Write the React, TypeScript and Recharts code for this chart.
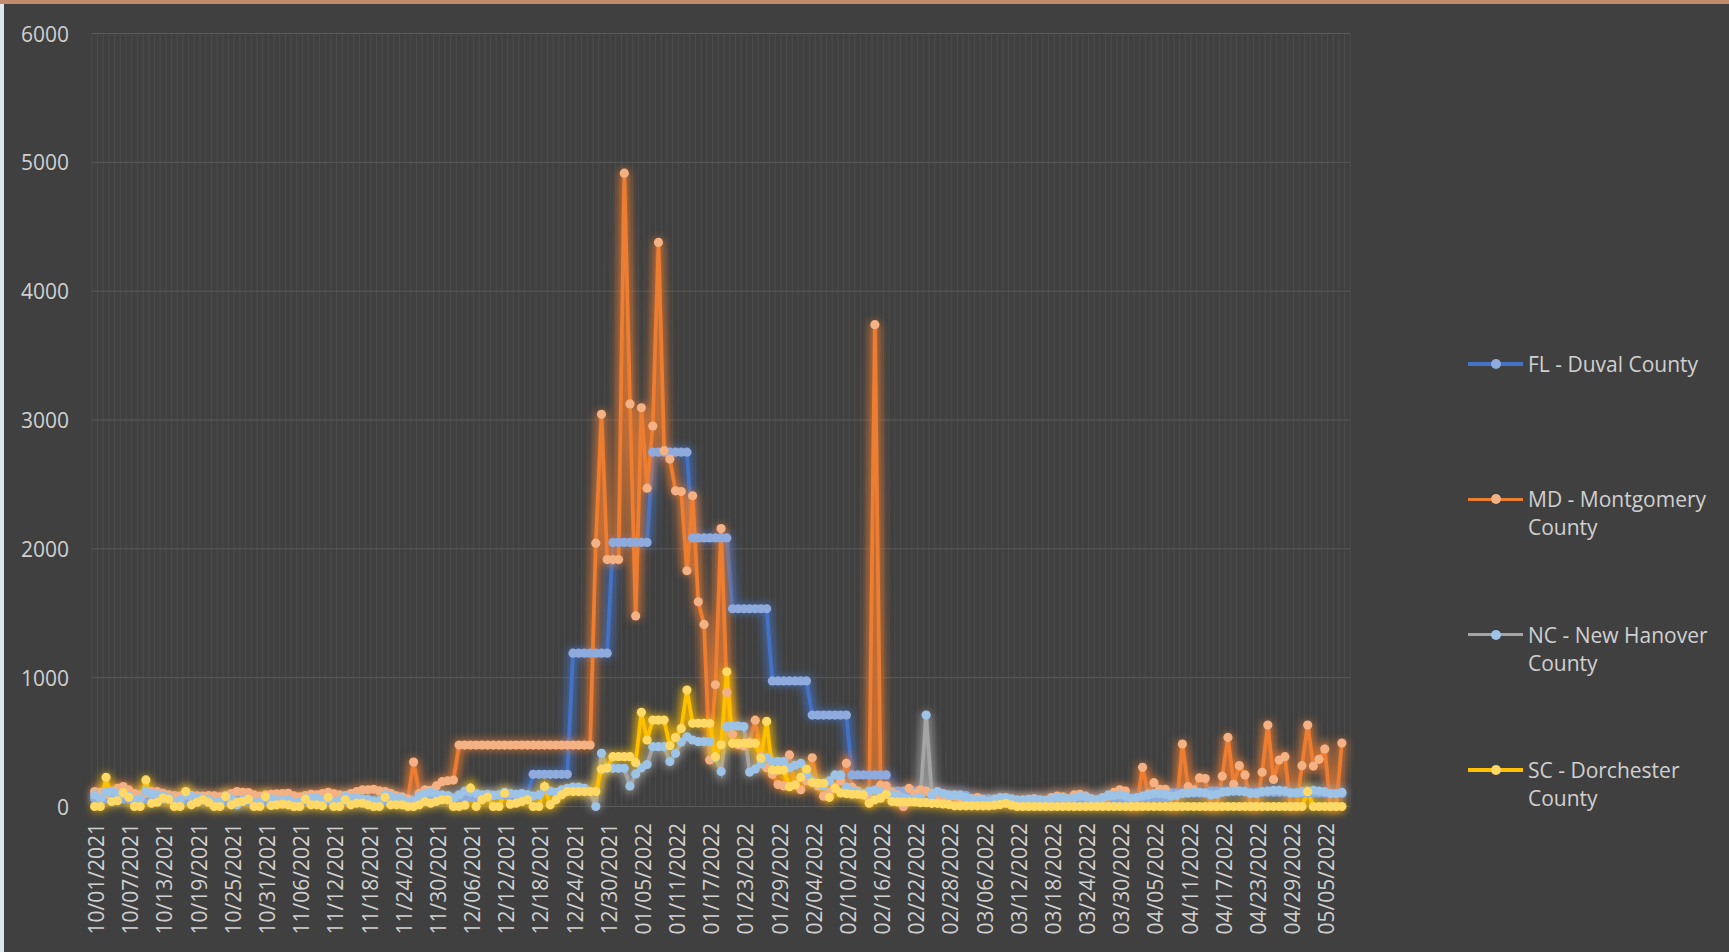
import { LineChart, Line, XAxis, YAxis, CartesianGrid } from 'recharts';

// daily categories 10/01/2021 .. 05/09/2022 (last one has no values)
const START = Date.UTC(2021, 9, 1);
const DAY_COUNT = 221;
const DATES = Array.from({ length: DAY_COUNT }, (_, i) => {
  const d = new Date(START + i * 86400000);
  const mm = String(d.getUTCMonth() + 1).padStart(2, '0');
  const dd = String(d.getUTCDate()).padStart(2, '0');
  return `${mm}/${dd}/${d.getUTCFullYear()}`;
});

const Y_TICKS = [0, 1000, 2000, 3000, 4000, 5000, 6000];

// one row per week, starting 10/01/2021
const FL_DUVAL = [
  60, 60, 60, 60, 60, 60, 60,
  55, 55, 55, 55, 55, 55, 55,
  50, 50, 50, 50, 50, 50, 50,
  45, 45, 45, 45, 45, 45, 45,
  40, 40, 40, 40, 40, 40, 40,
  40, 40, 40, 40, 40, 40, 40,
  40, 40, 40, 40, 40, 40, 40,
  45, 45, 45, 45, 45, 45, 45,
  55, 55, 55, 55, 55, 55, 55,
  70, 70, 70, 70, 70, 70, 70,
  90, 90, 90, 90, 90, 90, 90,
  250, 250, 250, 250, 250, 250, 250,
  1190, 1190, 1190, 1190, 1190, 1190, 1190,
  2050, 2050, 2050, 2050, 2050, 2050, 2050,
  2750, 2750, 2750, 2750, 2750, 2750, 2750,
  2085, 2085, 2085, 2085, 2085, 2085, 2085,
  1535, 1535, 1535, 1535, 1535, 1535, 1535,
  975, 975, 975, 975, 975, 975, 975,
  710, 710, 710, 710, 710, 710, 710,
  245, 245, 245, 245, 245, 245, 245,
  120, 120, 120, 120, 120, 120, 120,
  85, 85, 85, 85, 85, 85, 85,
  60, 60, 60, 60, 60, 60, 60,
  50, 50, 50, 50, 50, 50, 50,
  45, 45, 45, 45, 45, 45, 45,
  50, 50, 50, 50, 50, 50, 50,
  65, 65, 65, 65, 65, 65, 65,
  105, 105, 105, 105, 105, 105, 105,
  120, 120, 120, 120, 120, 120, 120,
  110, 110, 110, 110, 110, 110, 110,
  105, 105, 105, 105, 105, 105, 105,
  100, 100, 100,
];

const MD_MONTGOMERY = [
  116, 110, 95, 120, 140, 155, 129,
  100, 90, 105, 116, 116, 103, 90,
  85, 80, 90, 85, 82, 80, 85,
  82, 75, 85, 100, 116, 110, 108,
  90, 80, 90, 95, 98, 100, 103,
  82, 75, 85, 95, 90, 100, 110,
  98, 90, 85, 100, 115, 129, 130,
  134, 121, 116, 100, 82, 75, 60,
  345, 100, 130, 125, 160, 193, 200,
  205, 477, 477, 477, 477, 477, 477,
  477, 477, 477, 477, 477, 477, 477,
  477, 477, 477, 477, 477, 477, 477,
  477, 477, 477, 477, 2044, 3044, 1917,
  1917, 1917, 4916, 3125, 1479, 3095, 2471,
  2953, 4378, 2762, 2697, 2450, 2445, 1830,
  2412, 1589, 1413, 361, 945, 2157, 885,
  560, 480, 470, 500, 670, 390, 300,
  250, 170, 160, 400, 170, 130, 200,
  378, 160, 80, 110, 150, 200, 335,
  150, 120, 100, 60, 3740, 165, 160,
  110, 90, 0, 140, 100, 130, 120,
  100, 80, 70, 75, 80, 60, 55,
  60, 70, 50, 40, 55, 60, 50,
  45, 40, 50, 55, 60, 50, 45,
  70, 80, 75, 60, 90, 95, 80,
  60, 50, 60, 80, 110, 130, 120,
  0, 0, 304, 97, 185, 133, 133,
  0, 0, 485, 154, 128, 222, 217,
  0, 0, 235, 536, 172, 317, 245,
  0, 0, 266, 632, 210, 361, 387,
  0, 0, 317, 632, 314, 366, 446,
  0, 0, 493,
];

const NC_NEW_HANOVER = [
  90, 60, 110, 116, 100, 95, 80,
  50, 60, 120, 100, 90, 85, 70,
  40, 50, 95, 80, 70, 60, 55,
  30, 40, 80, 60, 13, 50, 55,
  30, 35, 70, 60, 50, 45, 50,
  30, 35, 60, 65, 65, 55, 60,
  40, 45, 80, 70, 65, 60, 55,
  40, 45, 90, 80, 70, 60, 30,
  40, 80, 103, 110, 95, 90, 85,
  60, 91, 120, 110, 100, 90, 95,
  85, 90, 110, 100, 95, 100, 90,
  80, 90, 130, 120, 110, 130, 140,
  150, 150, 140, 116, 0, 413, 296,
  296, 296, 296, 159, 253, 300, 326,
  464, 464, 464, 349, 413, 500, 541,
  516, 503, 503, 503, 380, 272, 620,
  625, 625, 620, 267, 292, 330, 380,
  349, 349, 348, 300, 320, 335, 250,
  200, 180, 160, 200, 245, 245, 149,
  120, 110, 100, 120, 127, 110, 100,
  90, 80, 70, 60, 60, 70, 710,
  90, 116, 100, 90, 90, 90, 70,
  60, 50, 50, 40, 50, 70, 70,
  60, 50, 50, 55, 60, 50, 45,
  60, 70, 65, 60, 70, 80, 75,
  60, 50, 70, 90, 85, 90, 80,
  60, 70, 80, 90, 100, 100, 95,
  80, 85, 100, 105, 110, 110, 105,
  90, 95, 110, 115, 120, 120, 115,
  100, 100, 115, 120, 125, 125, 120,
  105, 105, 115, 120, 125, 120, 115,
  100, 100, 110,
];

const SC_DORCHESTER = [
  0, 0, 227, 39, 44, 107, 71,
  0, 0, 206, 26, 33, 65, 57,
  0, 0, 116, 13, 33, 52, 33,
  0, 0, 77, 13, 33, 39, 57,
  0, 0, 77, 8, 13, 18, 13,
  0, 0, 57, 13, 13, 5, 71,
  0, 0, 52, 13, 26, 26, 13,
  0, 0, 71, 13, 13, 13, 0,
  0, 13, 39, 26, 39, 52, 52,
  0, 0, 10, 142, 0, 52, 73,
  0, 0, 103, 18, 26, 39, 52,
  0, 0, 155, 13, 52, 91, 116,
  116, 116, 116, 116, 116, 290, 300,
  387, 387, 387, 387, 340, 731, 516,
  671, 671, 671, 472, 535, 606, 904,
  646, 646, 646, 646, 387, 479, 1046,
  490, 490, 490, 490, 490, 375, 660,
  283, 283, 283, 154, 167, 227, 289,
  186, 180, 180, 71, 141, 105, 100,
  95, 95, 90, 26, 52, 65, 95,
  39, 35, 35, 35, 35, 30, 30,
  25, 25, 20, 15, 5, 5, 5,
  5, 5, 5, 5, 10, 15, 25,
  10, 0, 0, 0, 0, 0, 0,
  0, 0, 0, 0, 0, 0, 0,
  0, 0, 0, 0, 0, 0, 0,
  0, 0, 0, 0, 0, 0, 0,
  0, 0, 0, 0, 0, 0, 0,
  0, 0, 0, 0, 0, 0, 0,
  0, 0, 0, 0, 0, 0, 0,
  0, 0, 0, 115, 0, 0, 0,
  0, 0, 0,
];

const SERIES = [
  { key: 'fl', name: 'FL - Duval County', line: '#4472C4', marker: '#8FAADC' },
  { key: 'md', name: 'MD - Montgomery County', line: '#ED7D31', marker: '#F4B183' },
  { key: 'nc', name: 'NC - New Hanover County', line: '#A5A5A5', marker: '#9DC3E6' },
  { key: 'sc', name: 'SC - Dorchester County', line: '#FFC000', marker: '#FFD966' },
];

const rows = DATES.map((date, i) => ({
  date,
  fl: FL_DUVAL[i],
  md: MD_MONTGOMERY[i],
  nc: NC_NEW_HANOVER[i],
  sc: SC_DORCHESTER[i],
}));

const W = 1729;
const H = 952;
const FONT = "'Open Sans', 'Noto Sans', sans-serif";
const TEXT = '#D0D0D0';
const BG = '#404040';

const XTick = ({ x, payload }: any) => {
  const cx = x + 1.5;
  const y = 823;
  return (
    <text x={cx} y={y} transform={`rotate(-90 ${cx} ${y})`} textAnchor="end" dominantBaseline="central"
      fill={TEXT} fontSize={21} fontFamily={FONT}>
      {payload.value}
    </text>
  );
};

const YTick = ({ y, payload }: any) => (
  <text x={69} y={y} textAnchor="end" dominantBaseline="central" fill={TEXT} fontSize={21} fontFamily={FONT}>
    {payload.value}
  </text>
);

const LEGEND_TOP = 364;
const LEGEND_GAP = 135.3;

export default function App() {
  return (
    <div style={{ position: 'fixed', left: 0, top: 0, width: W, height: H, background: BG, overflow: 'hidden', fontFamily: FONT }}>
      <style>{SERIES.map((s) => `.glow-${s.key} { filter: url(#glow-${s.key}); }`).join('\n')}</style>
      <svg width={1} height={1} style={{ position: 'absolute', left: 0, top: 0 }}>
        <defs>
          {SERIES.map((s) => (
            <filter key={s.key} id={`glow-${s.key}`} filterUnits="userSpaceOnUse" x={0} y={0} width={W} height={H}
              colorInterpolationFilters="sRGB">
              <feMorphology in="SourceAlpha" operator="dilate" radius={2.5} result="d" />
              <feGaussianBlur in="d" stdDeviation={4.5} result="b" />
              <feFlood floodColor={s.line} floodOpacity={0.75} />
              <feComposite in2="b" operator="in" result="g" />
              <feMerge>
                <feMergeNode in="g" />
                <feMergeNode in="SourceGraphic" />
              </feMerge>
            </filter>
          ))}
        </defs>
      </svg>
      <div style={{ position: 'absolute', left: 0, top: 0, width: W, height: 4, background: '#C08A6C' }} />
      <div style={{ position: 'absolute', left: 0, top: 4, width: 4, height: H - 4, background: '#DCE6EE' }} />

      <div style={{ position: 'absolute', left: 0, top: 0 }}>
        <LineChart width={W} height={H} data={rows} margin={{ top: 33.5, right: 378.6, bottom: 15.5, left: 11.8 }}>
          <CartesianGrid horizontal={false} stroke="#4B4B4B"
            verticalCoordinatesGenerator={({ offset }: any) =>
              Array.from({ length: DAY_COUNT + 1 }, (_, i) => offset.left + (i * offset.width) / DAY_COUNT)} />
          <CartesianGrid vertical={false} stroke="#5A5A5A" />
          <XAxis dataKey="date" interval={5} height={130} padding={{ left: 2.85, right: 2.85 }}
            axisLine={false} tickLine={false} tick={<XTick />} />
          <YAxis domain={[0, 6000]} ticks={Y_TICKS} width={80} axisLine={false} tickLine={false} tick={<YTick />} />
          {SERIES.map((s) => (
            <Line key={s.key} className={`glow-${s.key}`} type="linear" dataKey={s.key} name={s.name}
              stroke={s.line} strokeWidth={3.75}
              dot={{ r: 4.6, fill: s.marker, stroke: s.marker, strokeWidth: 0 }}
              activeDot={false} isAnimationActive={false} />
          ))}
        </LineChart>
      </div>

      {SERIES.map((s, i) => {
        const cy = LEGEND_TOP + i * LEGEND_GAP;
        return (
          <div key={s.key}>
            <div style={{ position: 'absolute', left: 1468, top: cy - 1.75, width: 55, height: 3.5, background: s.line }} />
            <div style={{ position: 'absolute', left: 1491, top: cy - 5, width: 10, height: 10, borderRadius: 5, background: s.marker }} />
            <div style={{ position: 'absolute', left: 1528, top: cy - 14, width: 200, lineHeight: '28px', fontSize: 21, color: TEXT }}>
              {s.name}
            </div>
          </div>
        );
      })}
    </div>
  );
}
